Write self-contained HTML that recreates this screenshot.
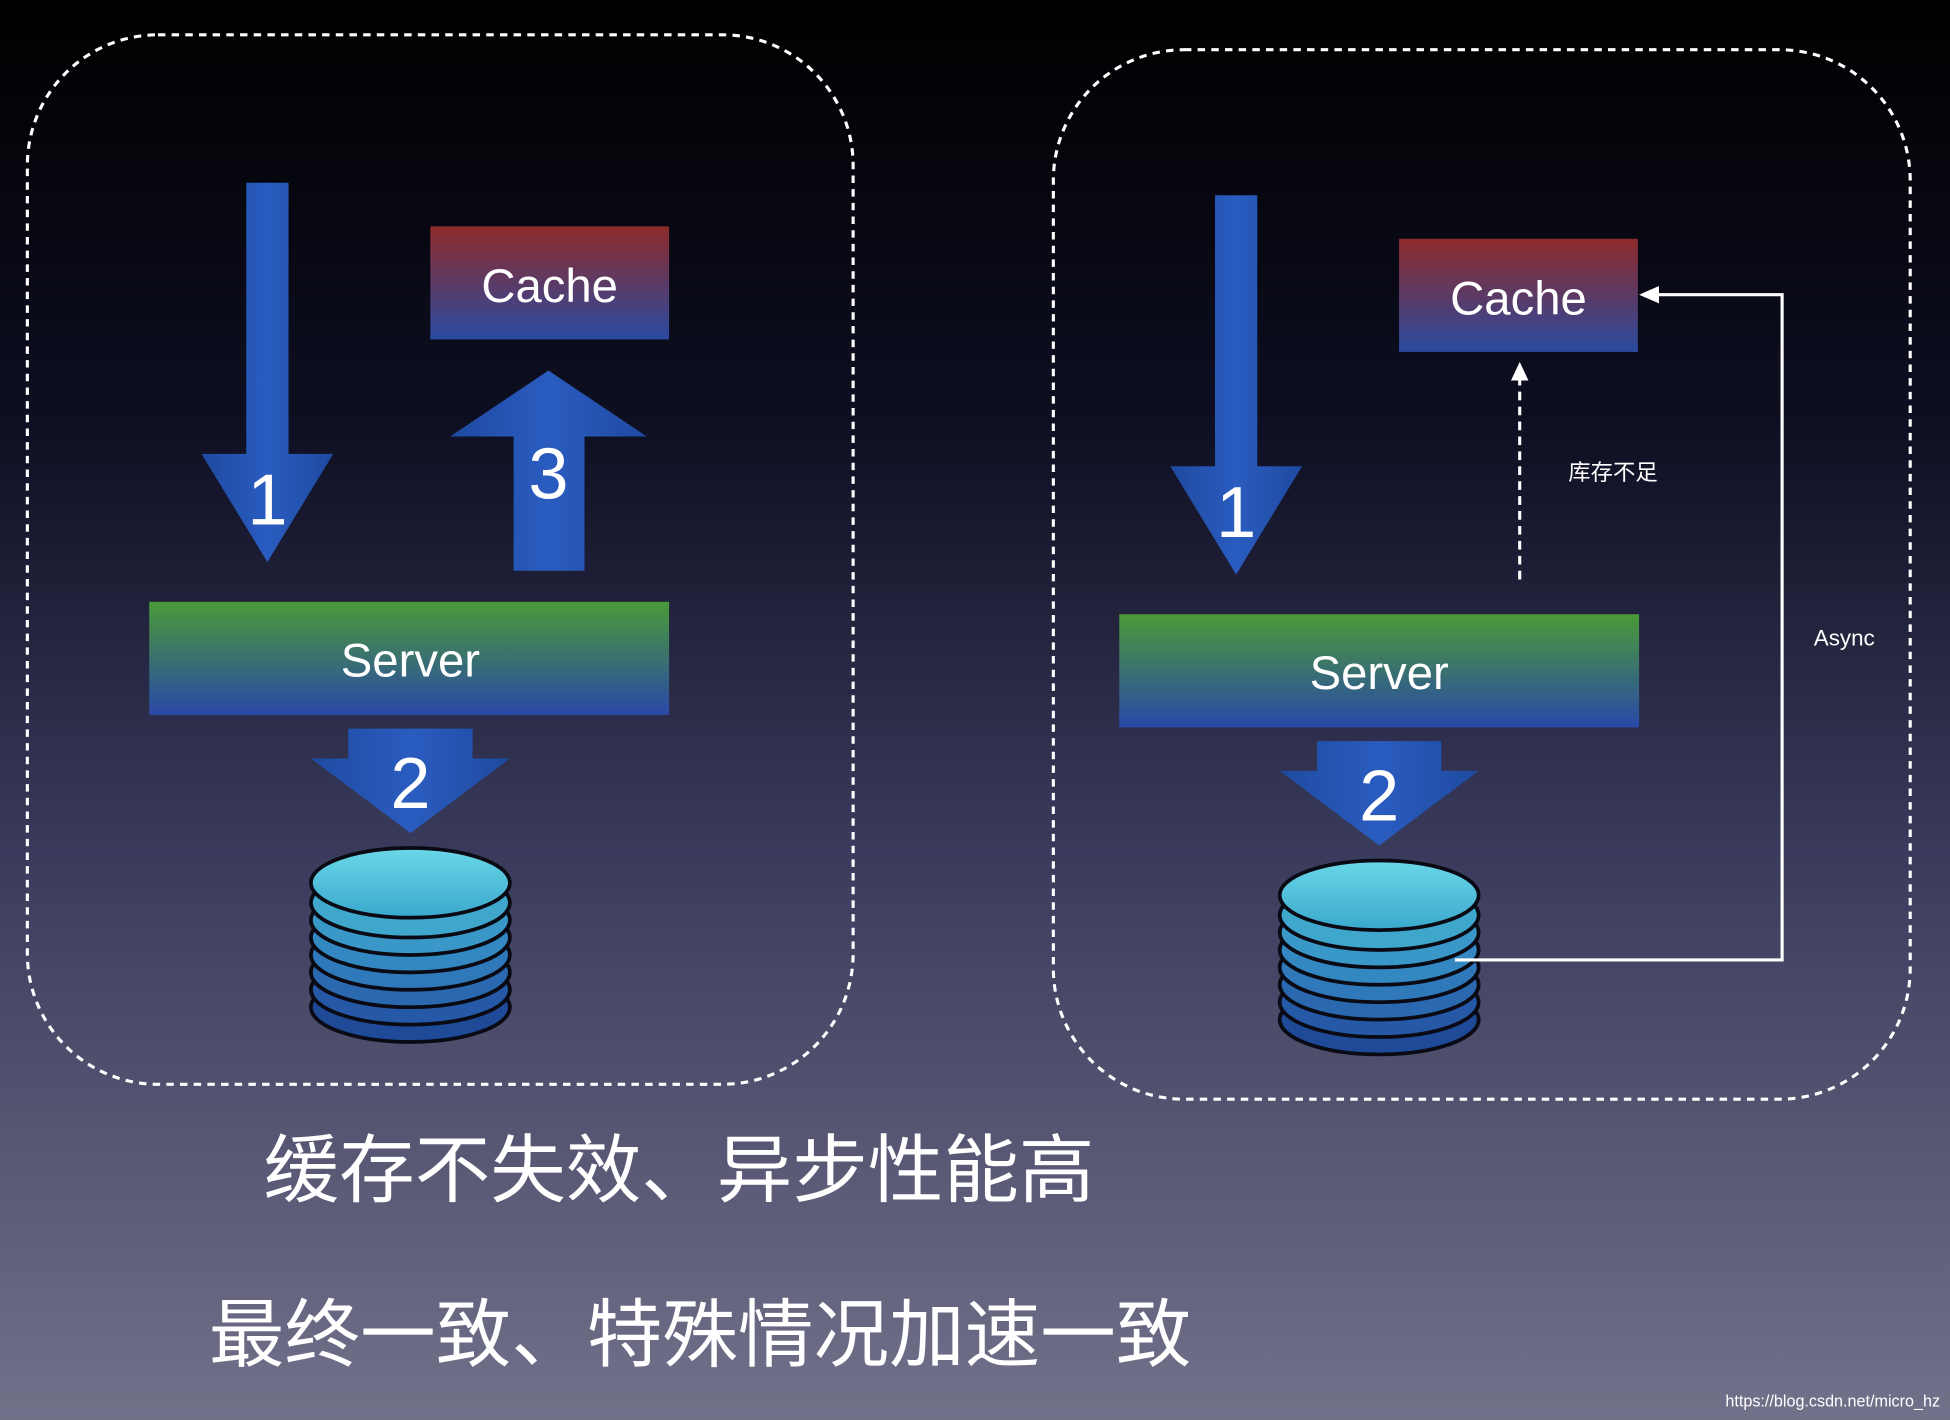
<!DOCTYPE html>
<html><head><meta charset="utf-8"><style>
html,body{margin:0;padding:0;width:1950px;height:1420px;overflow:hidden}
svg{display:block}
text{font-family:"Liberation Sans","Noto Sans CJK SC",sans-serif;fill:#fff}
</style></head><body>
<svg width="1950" height="1420" viewBox="0 0 1568 1142" preserveAspectRatio="none" xmlns="http://www.w3.org/2000/svg">
<defs>
<linearGradient id="bg" x1="0" y1="0" x2="0" y2="1">
<stop offset="0" stop-color="#000000"/>
<stop offset="0.3" stop-color="#0e0f22"/>
<stop offset="0.6" stop-color="#3a3b5c"/>
<stop offset="1" stop-color="#72718a"/>
</linearGradient>
<linearGradient id="cache" x1="0" y1="0" x2="0" y2="1">
<stop offset="0" stop-color="#8e2a2a"/>
<stop offset="1" stop-color="#2a4aa0"/>
</linearGradient>
<linearGradient id="server" x1="0" y1="0" x2="0" y2="1">
<stop offset="0" stop-color="#4a9a38"/>
<stop offset="1" stop-color="#2a48a8"/>
</linearGradient>
<linearGradient id="arrow" x1="0" y1="0" x2="1" y2="0">
<stop offset="0" stop-color="#1e4aa0"/>
<stop offset="0.5" stop-color="#2a5cc0"/>
<stop offset="1" stop-color="#1e4aa0"/>
</linearGradient>
<linearGradient id="disc" x1="0" y1="0" x2="0" y2="1">
<stop offset="0" stop-color="#4aa8d0"/>
<stop offset="1" stop-color="#2a60a8"/>
</linearGradient>
<linearGradient id="disctop" x1="0" y1="0" x2="0" y2="1">
<stop offset="0" stop-color="#6ad8e8"/>
<stop offset="1" stop-color="#3aa8cc"/>
</linearGradient>
<g id="db">
<ellipse cx="0" cy="100" rx="80" ry="28" fill="#1e4a98" stroke="#0a0a14" stroke-width="3"/>
<ellipse cx="0" cy="86" rx="80" ry="28" fill="#2558a6" stroke="#0a0a14" stroke-width="3"/>
<ellipse cx="0" cy="72" rx="80" ry="28" fill="#2a68b0" stroke="#0a0a14" stroke-width="3"/>
<ellipse cx="0" cy="58" rx="80" ry="28" fill="#2f78ba" stroke="#0a0a14" stroke-width="3"/>
<ellipse cx="0" cy="44" rx="80" ry="28" fill="#3488c2" stroke="#0a0a14" stroke-width="3"/>
<ellipse cx="0" cy="30" rx="80" ry="28" fill="#3a98c8" stroke="#0a0a14" stroke-width="3"/>
<ellipse cx="0" cy="16" rx="80" ry="28" fill="#3fa6cc" stroke="#0a0a14" stroke-width="3"/>
<ellipse cx="0" cy="0" rx="80" ry="28" fill="url(#disctop)" stroke="#0a0a14" stroke-width="3"/>
</g>
</defs>
<rect width="1568" height="1142" fill="url(#bg)"/>

<!-- left -->
<rect x="22" y="28" width="664" height="844" rx="105" fill="none" stroke="#fff" stroke-width="2.5" stroke-dasharray="6,5"/>
<polygon points="198,147 232,147 232,365 268,365 215,452 162,365 198,365" fill="url(#arrow)"/>
<text x="215" y="422" font-size="58" text-anchor="middle">1</text>
<rect x="346" y="182" width="192" height="91" fill="url(#cache)"/>
<text x="442" y="243" font-size="38" text-anchor="middle">Cache</text>
<polygon points="441,298 520,351 470,351 470,459 413,459 413,351 362,351" fill="url(#arrow)"/>
<text x="441" y="401" font-size="58" text-anchor="middle">3</text>
<rect x="120" y="484" width="418" height="91" fill="url(#server)"/>
<text x="330" y="544" font-size="38" text-anchor="middle">Server</text>
<polygon points="280,586 380,586 380,610 410,610 330,670 250,610 280,610" fill="url(#arrow)"/>
<text x="330" y="650" font-size="58" text-anchor="middle">2</text>
<use href="#db" x="330" y="710"/>

<!-- right -->
<rect x="847" y="40" width="689" height="844" rx="105" fill="none" stroke="#fff" stroke-width="2.5" stroke-dasharray="6,5"/>
<polygon points="977,157 1011,157 1011,375 1047,375 994,462 941,375 977,375" fill="url(#arrow)"/>
<text x="994" y="432" font-size="58" text-anchor="middle">1</text>
<rect x="1125" y="192" width="192" height="91" fill="url(#cache)"/>
<text x="1221" y="253" font-size="38" text-anchor="middle">Cache</text>
<line x1="1222" y1="466" x2="1222" y2="304" stroke="#fff" stroke-width="2.5" stroke-dasharray="7,5"/>
<polygon points="1222,291 1229,306 1215,306" fill="#fff"/>
<text x="1297" y="386" font-size="18" text-anchor="middle">库存不足</text>
<rect x="900" y="494" width="418" height="91" fill="url(#server)"/>
<text x="1109" y="554" font-size="38" text-anchor="middle">Server</text>
<polygon points="1059,596 1159,596 1159,620 1189,620 1109,680 1029,620 1059,620" fill="url(#arrow)"/>
<text x="1109" y="660" font-size="58" text-anchor="middle">2</text>
<use href="#db" x="1109" y="720"/>
<polyline points="1170,772 1433,772 1433,237 1332,237" fill="none" stroke="#fff" stroke-width="2.5"/>
<polygon points="1318,237 1334,230 1334,244" fill="#fff"/>
<text x="1483" y="519" font-size="18" text-anchor="middle">Async</text>

<text x="212" y="962" font-size="60" textLength="668" lengthAdjust="spacingAndGlyphs">缓存不失效、异步性能高</text>
<text x="168" y="1094" font-size="60" textLength="790" lengthAdjust="spacingAndGlyphs">最终一致、特殊情况加速一致</text>
<text x="1560" y="1131" font-size="13" text-anchor="end" fill="#e8e8f0">https://blog.csdn.net/micro_hz</text>
</svg>
</body></html>
